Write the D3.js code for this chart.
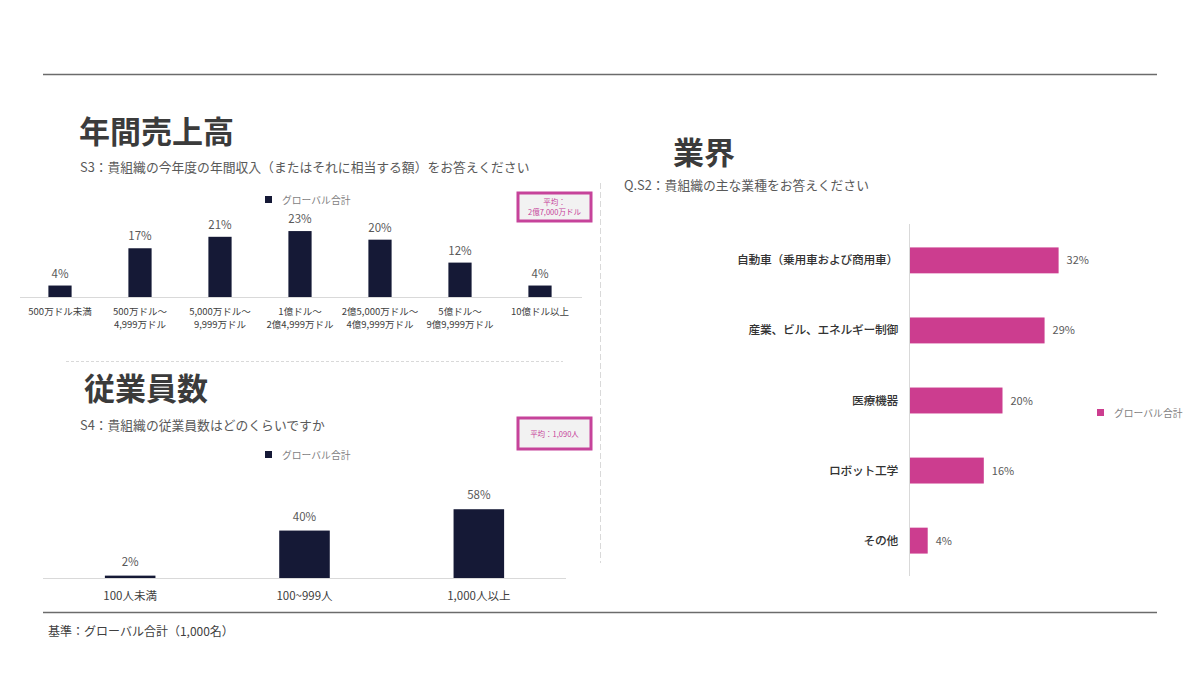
<!DOCTYPE html>
<html><head><meta charset="utf-8">
<script src="https://cdn.jsdelivr.net/npm/d3@7"></script>
<style>
body{margin:0;background:#fff;}
svg{display:block;font-family:"Noto Sans CJK JP","Noto Sans",sans-serif;}
</style></head>
<body>
<svg id="c" width="1200" height="675"></svg>
<script>
// ---- data ----
const revCategories = [["500万ドル未満"],["500万ドル～","4,999万ドル"],["5,000万ドル～","9,999万ドル"],["1億ドル～","2億4,999万ドル"],["2億5,000万ドル～","4億9,999万ドル"],["5億ドル～","9億9,999万ドル"],["10億ドル以上"]];
const revValues = [4,17,21,23,20,12,4];
const empCategories = ["100人未満","100~999人","1,000人以上"];
const empValues = [2,40,58];
const indCategories = ["自動車（乗用車および商用車）","産業、ビル、エネルギー制御","医療機器","ロボット工学","その他"];
const indValues = [32,29,20,16,4];
const seriesName = "グローバル合計";

const navy = "#151936", pink = "#cc3d8f";
const svg = d3.select("#c");

// frame lines
svg.append("line").attr("x1",43).attr("x2",1157).attr("y1",74.5).attr("y2",74.5).attr("stroke","#6b6b6b").attr("stroke-width",1.5);
svg.append("line").attr("x1",43).attr("x2",1157).attr("y1",612.5).attr("y2",612.5).attr("stroke","#6b6b6b").attr("stroke-width",1.5);
svg.append("text").attr("x",48).attr("y",636).attr("font-size",12).attr("fill","#404040").text("基準：グローバル合計（1,000名）");
// separators
svg.append("line").attr("x1",66).attr("x2",563).attr("y1",361.5).attr("y2",361.5).attr("stroke","#d9d9d9").attr("stroke-dasharray","3,2");
svg.append("line").attr("x1",600.5).attr("x2",600.5).attr("y1",183).attr("y2",563).attr("stroke","#d9d9d9").attr("stroke-dasharray","6,3");

function title(x,y,t){svg.append("text").attr("x",x).attr("y",y).attr("font-size",31).attr("font-weight","bold").attr("fill","#3b3b3b").text(t);}
function sub(x,y,t){svg.append("text").attr("x",x).attr("y",y).attr("font-size",12.8).attr("fill","#595959").text(t);}
function legend(x,y,c){svg.append("rect").attr("x",x).attr("y",y-4).attr("width",7).attr("height",7).attr("fill",c);
  svg.append("text").attr("x",x+17).attr("y",y+4).attr("font-size",9.8).attr("fill","#7f7f7f").text(seriesName);}
function meanBox(x,y,w,h,lines){
  svg.append("rect").attr("x",x).attr("y",y).attr("width",w).attr("height",h).attr("fill","#f2f2f2").attr("stroke","#c6439a").attr("stroke-width",3);
  const t=svg.append("text").attr("text-anchor","middle").attr("font-size",7.5).attr("fill","#c6439a");
  lines.forEach((l,i)=>t.append("tspan").attr("x",x+w/2).attr("y",y+h/2+3+(i-(lines.length-1)/2)*10).text(l));
}

// ---- Chart 1 ----
title(79,143,"年間売上高");
sub(80,172,"S3：貴組織の今年度の年間収入（またはそれに相当する額）をお答えください");
legend(265,200,navy);
meanBox(518,193,73,28,["平均：","2億7,000万ドル"]);
{
  const x=d3.scaleBand().domain(d3.range(revValues.length)).range([20,580]).paddingInner(0.71).paddingOuter(0.355);
  const y=d3.scaleLinear().domain([0,30]).range([297,211]);
  const g=svg.append("g");
  g.append("line").attr("x1",20).attr("x2",582).attr("y1",297.5).attr("y2",297.5).attr("stroke","#d9d9d9");
  g.selectAll("rect").data(revValues).join("rect").attr("x",(d,i)=>x(i)).attr("width",x.bandwidth()).attr("y",d=>y(d)).attr("height",d=>y(0)-y(d)).attr("fill",navy);
  g.selectAll(".v").data(revValues).join("text").attr("x",(d,i)=>x(i)+x.bandwidth()/2).attr("y",d=>y(d)-8).attr("text-anchor","middle").attr("font-size",11.5).attr("fill","#595959").text(d=>d+"%");
  revCategories.forEach((ls,i)=>{
    const t=g.append("text").attr("text-anchor","middle").attr("font-size",9.5).attr("fill","#404040");
    ls.forEach((l,j)=>t.append("tspan").attr("x",x(i)+x.bandwidth()/2).attr("y",315+j*13).text(l));
  });
}

// ---- Chart 2 ----
title(84,400,"従業員数");
sub(80,430,"S4：貴組織の従業員数はどのくらいですか");
legend(265,455,navy);
meanBox(518,418,73,31,["平均：1,090人"]);
{
  const x=d3.scaleBand().domain(empCategories).range([43,566]).paddingInner(0.71).paddingOuter(0.355);
  const y=d3.scaleLinear().domain([0,70]).range([578,495]);
  const g=svg.append("g");
  g.append("line").attr("x1",43).attr("x2",566).attr("y1",578.5).attr("y2",578.5).attr("stroke","#d9d9d9");
  g.selectAll("rect").data(empValues).join("rect").attr("x",(d,i)=>x(empCategories[i])).attr("width",x.bandwidth()).attr("y",d=>y(d)).attr("height",d=>y(0)-y(d)).attr("fill",navy);
  g.selectAll(".v").data(empValues).join("text").attr("x",(d,i)=>x(empCategories[i])+x.bandwidth()/2).attr("y",d=>y(d)-10).attr("text-anchor","middle").attr("font-size",11.5).attr("fill","#595959").text(d=>d+"%");
  g.selectAll(".c").data(empCategories).join("text").attr("x",d=>x(d)+x.bandwidth()/2).attr("y",600).attr("text-anchor","middle").attr("font-size",11.5).attr("fill","#404040").text(d=>d);
}

// ---- Chart 3 ----
title(673,164,"業界");
sub(624,190,"Q.S2：貴組織の主な業種をお答えください");
legend(1097,413,pink);
{
  const y=d3.scaleBand().domain(indCategories).range([225,576]).paddingInner(0.63).paddingOuter(0.32);
  const x=d3.scaleLinear().domain([0,40]).range([909,1096]);
  const g=svg.append("g");
  g.selectAll("rect").data(indValues).join("rect").attr("x",x(0)).attr("y",(d,i)=>y(indCategories[i])).attr("height",y.bandwidth()).attr("width",d=>x(d)-x(0)).attr("fill",pink);
  g.append("line").attr("x1",909.5).attr("x2",909.5).attr("y1",224).attr("y2",576).attr("stroke","#d9d9d9");
  g.selectAll(".v").data(indValues).join("text").attr("x",d=>x(d)+8).attr("y",(d,i)=>y(indCategories[i])+y.bandwidth()/2+4).attr("font-size",11).attr("fill","#595959").text(d=>d+"%");
  g.selectAll(".c").data(indCategories).join("text").attr("x",898).attr("y",d=>y(d)+y.bandwidth()/2+4).attr("text-anchor","end").attr("font-size",11.8).attr("font-weight","500").attr("fill","#333").attr("letter-spacing",-0.3).text(d=>d);
}
</script>
</body></html>
